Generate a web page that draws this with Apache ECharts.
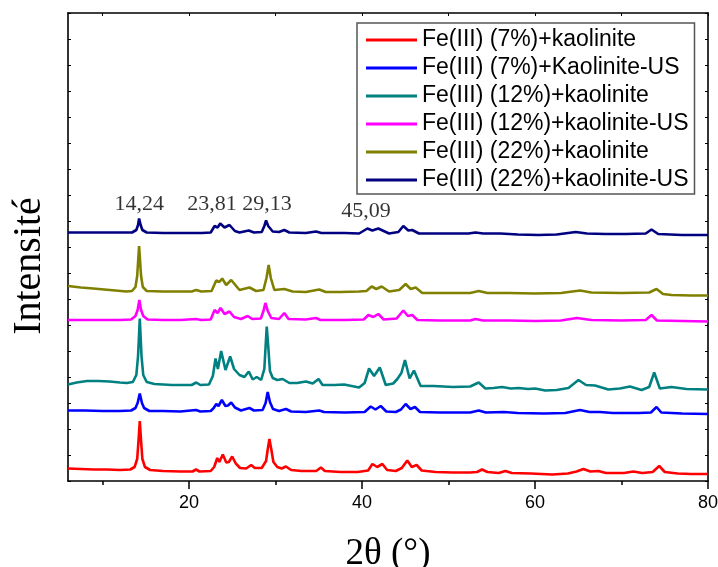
<!DOCTYPE html>
<html>
<head>
<meta charset="utf-8">
<script src="https://cdn.jsdelivr.net/npm/echarts@6/dist/echarts.min.js"></script>
<style>
html, body { margin: 0; padding: 0; background: #fff; }
#chart { width: 718px; height: 567px; }
</style>
</head>
<body>
<div id="chart"></div>
<script>
// XRD patterns, [2θ (°), intensity (a.u., stacked)]
const seriesNames = [
  'Fe(III) (7%)+kaolinite',
  'Fe(III) (7%)+Kaolinite-US',
  'Fe(III) (12%)+kaolinite',
  'Fe(III) (12%)+kaolinite-US',
  'Fe(III) (22%)+kaolinite',
  'Fe(III) (22%)+kaolinite-US'
];
const seriesColors = ['#ff0000', '#0000ff', '#008080', '#ff00ff', '#808000', '#000080'];

const fe7 = [
  [6.0,12.5],[7.5,12],[9,11.5],[10.5,11.5],[12,11],[13.2,11.5],[13.7,14],[14.0,22],[14.15,40],[14.3,60],[14.45,40],[14.6,22],[14.9,14],[15.5,11],[17,10],[19,9.5],[20.4,9.5],[20.8,11.5],[21.2,9.5],[22.5,10],[22.9,14],[23.26,23],[23.5,19],[23.9,26.5],[24.3,18.5],[24.6,19],[24.98,24.5],[25.4,17.5],[25.9,13],[26.6,12.5],[27.18,16],[27.6,13],[28.4,13],[28.9,20],[29.1,32],[29.29,42],[29.5,32],[29.75,19],[30.2,14],[30.7,12.5],[31.2,14.5],[31.8,11],[33,10],[34.7,10],[35.24,13.5],[35.7,10],[37.5,9],[39.5,9],[40.7,10.5],[41.2,17],[41.75,14],[42.35,17],[42.9,11],[43.9,10],[44.6,13],[45.23,20.5],[45.75,14],[46.31,16],[46.9,10.5],[48.5,9],[50.5,8.5],[52.5,8.5],[53.3,9],[53.87,11.5],[54.5,9],[55.8,8],[56.57,10],[57.3,8],[59.5,7.5],[62,6.5],[63.8,7.5],[64.8,9.5],[65.6,12],[66.4,9.5],[67.33,10],[68.2,8],[70.3,8],[71.36,9.5],[72.4,8],[73.6,9],[74.36,15],[75.0,9],[76.5,7.5],[78,7],[80,7]
];
const fe7us = [
  [6,70.5],[8,70.5],[10,70],[12,70],[13.3,70.5],[13.8,73],[14.05,78],[14.3,87.5],[14.55,78],[14.8,73],[15.4,70],[17,70],[19,69.5],[20.8,71],[21.3,69.5],[22.5,70],[22.85,73],[23.14,77],[23.4,75],[23.79,81],[24.2,75],[24.5,75.5],[24.87,78.5],[25.3,73.5],[26.0,70.5],[26.98,73],[27.5,70.5],[28.5,71],[28.85,78],[29.09,89],[29.35,79],[29.7,72],[30.4,70],[31.2,72],[31.8,69.5],[33.5,69],[35.05,70.5],[35.6,69],[38,68.5],[40.3,69],[41.0,74.5],[41.55,71.5],[42.16,75],[42.8,69.5],[43.9,69],[44.5,71.5],[45.04,77],[45.6,72],[46.12,74],[46.7,69],[49,68.5],[52.5,68.5],[53.5,70.5],[54.3,68.5],[56.4,69],[58,68],[61,67.5],[63.5,68],[65.2,71],[66.3,69],[67.5,69],[69,68],[72,68],[73.4,68.5],[74.05,74],[74.6,68.5],[77,67.5],[80,67]
];
const fe12 = [
  [6,96.5],[7,98.5],[8.2,100],[9.5,100],[10.8,99.5],[12,98.5],[12.8,98],[13.5,99],[13.9,106],[14.1,125],[14.3,162.5],[14.5,125],[14.7,106],[15.1,99],[16,97],[18,96],[20.3,96],[20.83,98.5],[21.3,96],[22.3,96.5],[22.75,105],[23.06,122.5],[23.33,112],[23.71,130],[24.21,111],[24.75,124.5],[25.2,112],[25.83,106],[26.4,104],[26.9,109.5],[27.36,101.5],[27.82,104],[28.33,101],[28.7,112],[28.85,135],[28.98,154.5],[29.15,135],[29.35,110],[29.67,103],[30.2,101],[30.82,102],[31.59,98],[32.5,98],[33.51,99.5],[34.3,97.5],[34.97,102],[35.43,96],[36.8,96],[37.93,96.5],[39.66,93.5],[40.3,98],[40.81,112.5],[41.39,105],[42.05,113.5],[42.74,96],[43.6,97.5],[44.08,102],[44.55,108],[44.96,121],[45.5,102.5],[46.0,110.5],[46.77,95],[48.3,95],[50.5,94],[52.5,94.5],[53.49,98.5],[54.26,92.5],[55.2,93],[56.18,94],[57.2,92.5],[58.1,93],[59.2,92],[60.03,92.5],[61.18,90.5],[62.5,91],[63.87,93],[65.02,101],[65.9,96],[66.94,95.5],[68.48,91.5],[69.8,92.5],[70.98,94.5],[72.32,91],[73.2,94],[73.78,108.5],[74.43,92.5],[75.78,94],[77.5,92],[80,91.5]
];
const fe12us = [
  [6,161],[8,161],[10,161],[12,161],[13.3,161.5],[13.8,165],[14.05,171],[14.25,181],[14.45,171],[14.7,165],[15.2,161.5],[17,161],[19,161],[20.8,162],[21.4,161],[22.5,161.5],[22.95,171],[23.3,168],[23.64,173],[24.1,167],[24.67,169.5],[25.2,164],[26.0,162],[26.78,165],[27.3,162],[28.3,162.5],[28.6,170],[28.82,178],[29.1,170],[29.5,163],[30.4,162],[31.01,168],[31.5,162],[33.5,161.5],[34.67,163],[35.2,161],[38,161],[40.2,161.5],[40.73,166],[41.3,164],[41.88,167],[42.5,161.5],[44.0,162.5],[44.77,170.5],[45.3,165],[45.8,166],[46.4,161],[49,160.5],[52.5,160.5],[53.11,162],[54,160.5],[57,160.5],[60,160],[63,160.5],[64.83,163],[66.5,161],[70,160.5],[72.8,161],[73.47,166],[74.1,160.5],[77,160],[80,159.5]
];
const fe22 = [
  [6,195],[7.5,193.5],[8.92,192.5],[10.84,191],[12.76,189.5],[13.4,190],[13.8,194],[14.0,205],[14.22,235],[14.45,205],[14.65,194],[15.1,190],[17,189.5],[20.3,189.5],[20.83,191],[21.4,189.5],[22.6,190],[23.14,200.5],[23.5,199],[23.83,202.5],[24.29,196],[24.87,201],[25.83,191],[26.98,193.5],[27.75,190],[28.6,191],[28.95,203],[29.2,216],[29.45,203],[29.86,191],[31.01,192],[31.97,189.5],[33.5,189],[35.05,191.5],[35.8,189],[37.5,189],[39.66,189.5],[40.5,190],[41.12,194.5],[41.65,192],[42.27,194.5],[43.12,189.5],[44.3,191],[45.04,197],[45.62,192],[46.2,193.5],[46.96,188],[49,188],[52.5,188],[53.49,190],[54.5,188],[57,188],[60,187.5],[63,188],[65.21,190.5],[66.5,188.5],[70,188],[73.2,188.5],[74.05,192],[74.8,187],[75.78,186],[78,185.5],[80,185.5]
];
const fe22us = [
  [6,248.5],[8,248.5],[10,248.5],[12,248.5],[13.4,248.5],[13.9,251],[14.1,256],[14.22,262.5],[14.4,256],[14.6,251],[15.1,248.5],[17,248],[20,248],[21.5,248],[22.5,248.5],[22.95,255],[23.3,253.5],[23.6,257.5],[24.1,253.5],[24.67,256],[25.3,250],[25.83,248.5],[26.9,250.5],[27.5,248.5],[28.4,249],[28.7,255],[28.9,260.5],[29.15,255],[29.67,249.5],[30.4,249],[31.01,251],[31.6,248.5],[33.5,248],[34.67,249.5],[35.3,248],[38,248],[39.66,247.5],[40.62,252.5],[41.19,250.5],[41.88,252.5],[43.12,247.5],[44.2,249],[44.77,255],[45.35,250.5],[45.8,251],[46.58,247.5],[49,247.5],[52.3,247.5],[53.11,248.5],[54,247.5],[55.99,247.5],[58,246.5],[60.41,246],[62.5,246.5],[64.71,249],[66,247.5],[68.1,247],[70.5,247],[72.8,247.5],[73.47,251.5],[74.24,247],[77,246],[80,246]
];
const patterns = [fe7, fe7us, fe12, fe12us, fe22, fe22us];

// Annotated reflections
const peakPositions = [14.24, 23.81, 29.13, 45.09];
const peakLabels = ['14,24', '23,81', '29,13', '45,09'];
const peakLabelLevels = [277, 277, 277, 270];
const peakLabelShift = [0, -10, -1, -40];

// Axis ticks
const xMajorTicks = [20, 40, 60, 80];
const xMinorTicks = [10, 30, 50, 70];
const xTopTicks = [10, 20, 30, 40, 50, 60, 70, 80];

const black = '#000';
const axisLineStyle = { color: black, width: 1.6 };

const lineSeries = patterns.map((data, i) => ({
  name: seriesNames[i],
  type: 'line',
  data: data,
  showSymbol: false,
  symbol: 'none',
  color: seriesColors[i],
  lineStyle: { color: seriesColors[i], width: 2.6 },
  xAxisIndex: 0,
  yAxisIndex: 0,
  z: 2
}));

const labelSeries = {
  name: 'pics',
  type: 'scatter',
  xAxisIndex: 0,
  yAxisIndex: 0,
  symbolSize: 0,
  silent: true,
  data: peakPositions.map((p, i) => ({
    value: [p, peakLabelLevels[i], peakLabels[i]],
    label: { offset: [peakLabelShift[i], 0] }
  })),
  label: {
    show: true,
    position: 'inside',
    formatter: (p) => p.data.value[2],
    fontFamily: 'Liberation Serif',
    fontSize: 22,
    color: black
  },
  z: 3
};

const chart = echarts.init(document.getElementById('chart'), null, { renderer: 'canvas' });
chart.setOption({
  animation: false,
  backgroundColor: '#fff',
  grid: { left: 68, right: 10, top: 13, bottom: 86, containLabel: false, outerBoundsMode: 'none' },
  legend: {
    data: seriesNames,
    orient: 'vertical',
    left: 357,
    top: 23,
    icon: 'rect',
    itemWidth: 51,
    itemHeight: 3,
    itemGap: 0,
    padding: [3, 6, 0, 9],
    borderColor: '#555',
    borderWidth: 1.5,
    backgroundColor: '#fff',
    textStyle: { fontFamily: 'Liberation Sans', fontSize: 23, color: black, lineHeight: 28 }
  },
  xAxis: [
    {
      type: 'value', min: 6, max: 80, position: 'bottom',
      axisLine: { show: true, onZero: false, lineStyle: axisLineStyle },
      axisTick: { show: true, customValues: xMajorTicks, length: 8, lineStyle: { color: black, width: 1.5 } },
      axisLabel: { show: true, customValues: xMajorTicks, color: black, fontFamily: 'Liberation Sans', fontSize: 18, margin: 13 },
      splitLine: { show: false },
      name: '2θ (°)', nameLocation: 'middle', nameGap: 55,
      nameTextStyle: { fontFamily: 'Liberation Serif', fontSize: 37, color: black }
    },
    {
      type: 'value', min: 6, max: 80, position: 'bottom',
      axisLine: { show: false, onZero: false },
      axisTick: { show: true, customValues: xMinorTicks, length: 4, lineStyle: { color: black, width: 1.5 } },
      axisLabel: { show: false },
      splitLine: { show: false }
    },
    {
      type: 'value', min: 6, max: 80, position: 'top',
      axisLine: { show: true, onZero: false, lineStyle: axisLineStyle },
      axisTick: { show: true, inside: true, customValues: xTopTicks, length: 3, lineStyle: { color: black, width: 1 } },
      axisLabel: { show: false },
      splitLine: { show: false }
    }
  ],
  yAxis: [
    {
      type: 'value', min: 0, max: 468, interval: 26, position: 'left',
      axisLine: { show: true, onZero: false, lineStyle: axisLineStyle },
      axisTick: { show: true, inside: true, length: 3, lineStyle: { color: black, width: 1 } },
      axisLabel: { show: false },
      splitLine: { show: false },
      name: 'Intensité', nameLocation: 'middle', nameGap: 19, nameRotate: 90,
      nameTextStyle: { fontFamily: 'Liberation Serif', fontSize: 40, color: black, padding: [0, 38, 0, 0] }
    },
    {
      type: 'value', min: 0, max: 468, interval: 26, position: 'right',
      axisLine: { show: true, onZero: false, lineStyle: axisLineStyle },
      axisTick: { show: true, inside: true, length: 3, lineStyle: { color: black, width: 1 } },
      axisLabel: { show: false },
      splitLine: { show: false }
    }
  ],
  series: [...lineSeries, labelSeries]
});
</script>
</body>
</html>
